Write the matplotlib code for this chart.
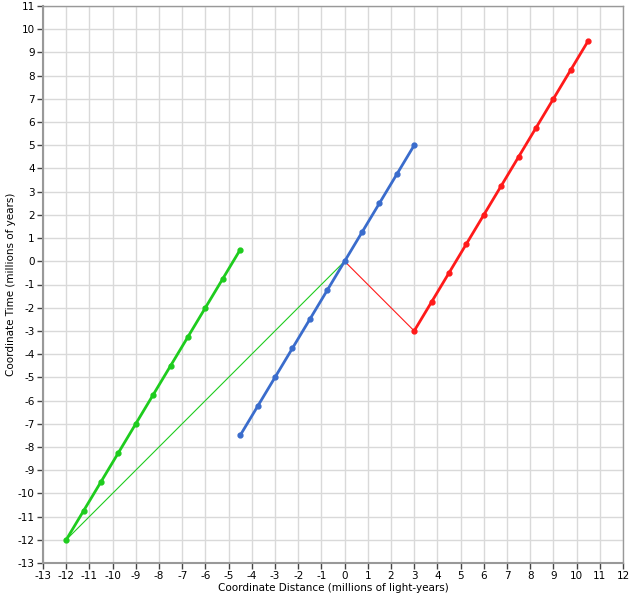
import matplotlib
matplotlib.use("Agg")
import matplotlib.pyplot as plt
import numpy as np

plt.rcParams["axes.unicode_minus"] = False

# worldline points (millions of light-years, millions of years)
green_x = [-12, -11.25, -10.5, -9.75, -9, -8.25, -7.5, -6.75, -6, -5.25, -4.5]
green_t = [-12, -10.75, -9.5, -8.25, -7, -5.75, -4.5, -3.25, -2, -0.75, 0.5]
blue_x = [-4.5, -3.75, -3, -2.25, -1.5, -0.75, 0, 0.75, 1.5, 2.25, 3]
blue_t = [-7.5, -6.25, -5, -3.75, -2.5, -1.25, 0, 1.25, 2.5, 3.75, 5]
red_x = [3, 3.75, 4.5, 5.25, 6, 6.75, 7.5, 8.25, 9, 9.75, 10.5]
red_t = [-3, -1.75, -0.5, 0.75, 2, 3.25, 4.5, 5.75, 7, 8.25, 9.5]
# light signals
green_sig_x = [-12, 0]
green_sig_t = [-12, 0]
red_sig_x = [0, 3]
red_sig_t = [0, -3]

x_ticks = list(range(-13, 13))
y_ticks = list(range(-13, 12))

fig = plt.figure(figsize=(6.32, 6.0), dpi=100)
ax = fig.add_axes([43/632, 37/600, 580/632, 557/600])

green = "#1ecc1e"
blue = "#3a6ccc"
red = "#ff1a1a"

ax.plot(green_sig_x, green_sig_t, color=green, lw=0.8, zorder=2)
ax.plot(red_sig_x, red_sig_t, color=red, lw=0.8, zorder=2)

ax.plot(green_x, green_t, color=green, lw=2, marker="o", ms=3.5, zorder=3)
ax.plot(blue_x, blue_t, color=blue, lw=2, marker="o", ms=3.5, zorder=3)
ax.plot(red_x, red_t, color=red, lw=2, marker="o", ms=3.5, zorder=3)

ax.set_xlim(-13, 12)
ax.set_ylim(-13, 11)
ax.set_xticks(x_ticks)
ax.set_yticks(y_ticks)
ax.grid(True, color="#d9d9d9", lw=1)
ax.set_axisbelow(True)
ax.tick_params(labelsize=7.5, length=4, width=1, color="#444444", pad=2)

for side in ["left", "bottom"]:
    ax.spines[side].set_color("#999999")
    ax.spines[side].set_linewidth(1.5)
for side in ["top", "right"]:
    ax.spines[side].set_color("#999999")
    ax.spines[side].set_linewidth(1)

ax.set_xlabel("Coordinate Distance (millions of light-years)", fontsize=7.5, labelpad=1)
ax.set_ylabel("Coordinate Time (millions of years)", fontsize=7.5, labelpad=1)

fig.savefig("out.png", dpi=100)
